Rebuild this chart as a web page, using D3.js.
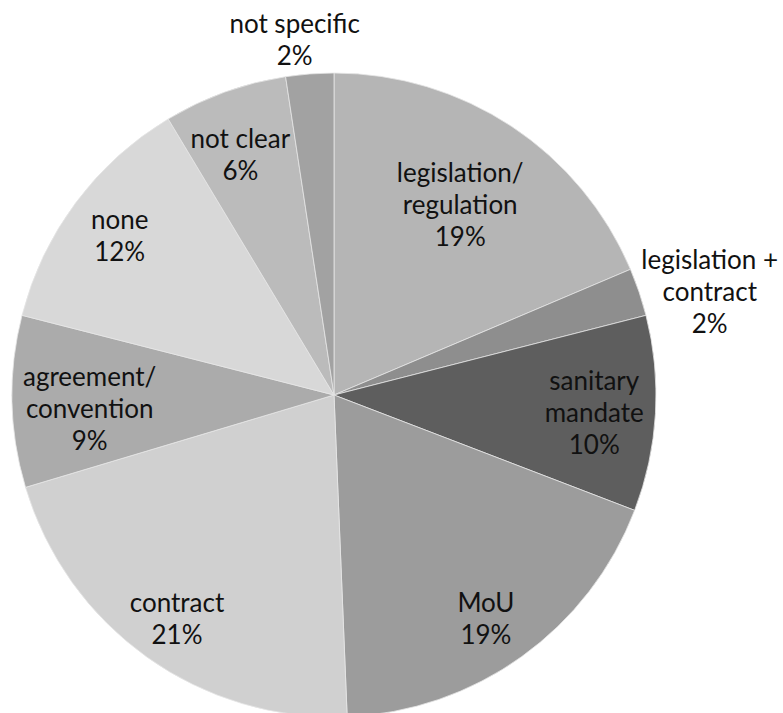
<!DOCTYPE html>
<html>
<head>
<meta charset="utf-8">
<script src="https://cdn.jsdelivr.net/npm/d3@7"></script>
<style>
  html, body { margin: 0; padding: 0; background: #ffffff; }
  svg { display: block; }
</style>
</head>
<body>
<svg id="chart" width="783" height="713"></svg>
<script>
// ---- data ----
const categories = [
  ["legislation/", "regulation"],
  ["legislation +", "contract"],
  ["sanitary", "mandate"],
  ["MoU"],
  ["contract"],
  ["agreement/", "convention"],
  ["none"],
  ["not clear"],
  ["not specific"]
];
const values = [18.6, 2.4, 9.8, 18.5, 21.0, 8.6, 12.4, 6.2, 2.4];
const colors = ["#b5b5b5", "#8e8e8e", "#5e5e5e", "#9c9c9c", "#d0d0d0", "#ababab", "#d8d8d8", "#bbbbbb", "#a2a2a2"];

// ---- layout ----
const W = 783, H = 713;
const cx = 334, cy = 395, R = 322;
const labelRadius = [0.71, 1.21, 0.81, 0.84, 0.85, 0.76, 0.83, 0.80, 1.11];
const labelAngleShift = [0, 3.3, 0.5, 1.5, -0.5, -2, 0, -1.5, -2]; // degrees
const fontSize = 26, lineH = 32;

const svg = d3.select("#chart");
const g = svg.append("g").attr("transform", `translate(${cx},${cy})`);

const total = d3.sum(values);
const pie = d3.pie().sort(null).value(d => d);
const arcs = pie(values);
const arc = d3.arc().innerRadius(0).outerRadius(R);

g.selectAll("path.slice")
  .data(arcs)
  .join("path")
  .attr("class", "slice")
  .attr("d", arc)
  .attr("fill", (d, i) => colors[i])
  .attr("stroke", "#e6e6e6")
  .attr("stroke-width", 0.8);

g.selectAll("text.lbl")
  .data(arcs)
  .join("text")
  .attr("class", "lbl")
  .attr("text-anchor", "middle")
  .attr("font-family", "Lato, 'Open Sans', sans-serif")
  .attr("font-size", fontSize)
  .attr("fill", "#111111")
  .each(function(d, i) {
    const mid = (d.startAngle + d.endAngle) / 2 + labelAngleShift[i] * Math.PI / 180;
    const r = R * labelRadius[i];
    const x = Math.sin(mid) * r;
    const y = -Math.cos(mid) * r;
    const lines = categories[i].concat([Math.round(values[i] / total * 100) + "%"]);
    const n = lines.length;
    const t = d3.select(this);
    lines.forEach((ln, k) => {
      t.append("tspan")
        .attr("x", x)
        .attr("y", y + (k - (n - 1) / 2) * lineH)
        .attr("dy", "0.35em")
        .text(ln);
    });
  });
</script>
</body>
</html>
